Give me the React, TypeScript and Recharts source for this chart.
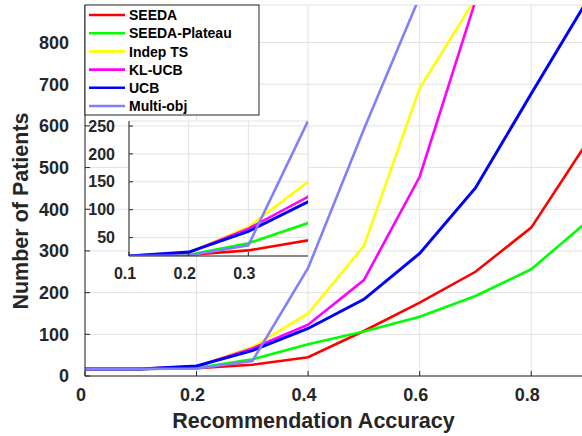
import React from 'react';
import { LineChart, Line, XAxis, YAxis, CartesianGrid } from 'recharts';

const FONT = '"Liberation Sans", Arial, Helvetica, sans-serif';
const INK = '#262626';

// ---- data ----
const accuracy = [0, 0.1, 0.2, 0.3, 0.4, 0.5, 0.6, 0.7, 0.8, 0.9];
const seeda = [17, 17, 19, 27, 45, 108, 176, 250, 356, 560];
const seedaPlateau = [17, 17, 19, 40, 76, 107, 142, 192, 256, 370];
const indepTS = [17, 17, 23, 69, 150, 312, 690, 905, 1400, 2000];
const klUcb = [17, 17, 23, 66, 123, 230, 478, 900, 1350, 1900];
const ucb = [17, 17, 24, 61, 114, 184, 294, 451, 677, 900];
const multiObj = [17, 17, 18, 36, 259, 592, 910, 1300, 1800, 2400];

const seriesNames = ['SEEDA', 'SEEDA-Plateau', 'Indep TS', 'KL-UCB', 'UCB', 'Multi-obj'];
const seriesKeys = ['seeda', 'seedaPlateau', 'indepTS', 'klUcb', 'ucb', 'multiObj'];
const seriesValues = [seeda, seedaPlateau, indepTS, klUcb, ucb, multiObj];

const mainXTicks = [0, 0.2, 0.4, 0.6, 0.8];
const mainYTicks = [0, 100, 200, 300, 400, 500, 600, 700, 800];
const insetXTicks = [0.1, 0.2, 0.3];
const insetYTicks = [50, 100, 150, 200, 250];

// ---- styles ----
const seriesColors = ['#ff0000', '#00ff00', '#ffff00', '#ff00ff', '#0000ff', '#8080ff'];
const seriesWidths = [2.6, 2.6, 2.6, 2.6, 3, 2.6];

const data = accuracy.map((x, i) => {
  const row: Record<string, number> = { x };
  seriesKeys.forEach((k, j) => {
    row[k] = seriesValues[j][i];
  });
  return row;
});

const fmtX = (v: number) => (v === 0 ? '0' : v.toFixed(1));

const makeXTick = (fontSize: number) => (props: any) => {
  const { x, y, payload } = props;
  return (
    <text
      x={x - 4}
      y={y}
      dy="0.71em"
      textAnchor="middle"
      fontSize={fontSize}
      fontWeight="bold"
      fontFamily={FONT}
      fill={INK}
    >
      {fmtX(payload.value)}
    </text>
  );
};

const makeYTick = (fontSize: number) => (props: any) => {
  const { x, y, payload } = props;
  return (
    <text
      x={x}
      y={y}
      dy="0.355em"
      textAnchor="end"
      fontSize={fontSize}
      fontWeight="bold"
      fontFamily={FONT}
      fill={INK}
    >
      {payload.value}
    </text>
  );
};

const noTick = () => <g />;

const lines = (prefix: string) =>
  seriesKeys.map((k, j) => (
    <Line
      key={prefix + k}
      type="linear"
      dataKey={k}
      name={seriesNames[j]}
      stroke={seriesColors[j]}
      strokeWidth={seriesWidths[j]}
      dot={false}
      activeDot={false}
      isAnimationActive={false}
    />
  ));

const Legend = () => {
  const left = 85;
  const top = 5;
  const w = 174;
  const h = 110;
  const row0 = 15;
  const step = 18.2;
  return (
    <g>
      <rect x={left} y={top} width={w} height={h} fill="#fff" stroke={INK} strokeWidth={1} />
      {seriesNames.map((n, j) => {
        const cy = top + row0 - 5 + j * step;
        return (
          <g key={n}>
            <line x1={89} x2={125} y1={cy} y2={cy} stroke={seriesColors[j]} strokeWidth={2.6} />
            <text
              x={129}
              y={cy + 5.1}
              fontSize={14}
              fontWeight="bold"
              fontFamily={FONT}
              fill="#000"
            >
              {n}
            </text>
          </g>
        );
      })}
    </g>
  );
};

export default function App() {
  return (
    <div
      style={{
        position: 'absolute',
        left: 0,
        top: 0,
        width: 582,
        height: 436,
        overflow: 'hidden',
        background: '#fff',
      }}
    >
      {/* main chart */}
      <div style={{ position: 'absolute', left: 0, top: 0 }}>
        <LineChart
          width={600}
          height={436}
          data={data}
          margin={{ top: 5, right: 13, bottom: 0, left: 0 }}
        >
          <CartesianGrid stroke="#e3e3e3" strokeWidth={1} fill="#fff" />
          <XAxis
            dataKey="x"
            type="number"
            domain={[0, 0.9]}
            ticks={mainXTicks}
            allowDataOverflow
            height={60}
            stroke={INK}
            tickSize={-5}
            tickMargin={17}
            tick={makeXTick(18)}
          />
          <XAxis
            xAxisId="top"
            orientation="top"
            dataKey="x"
            type="number"
            domain={[0, 0.9]}
            ticks={mainXTicks}
            allowDataOverflow
            height={0}
            stroke={INK}
            tickSize={-5}
            tick={noTick}
          />
          <YAxis
            type="number"
            domain={[0, 890]}
            ticks={mainYTicks}
            allowDataOverflow
            width={85}
            stroke={INK}
            tickSize={-5}
            tickMargin={21}
            tick={makeYTick(18)}
          />
          {lines('m-')}
        </LineChart>
      </div>

      {/* inset chart */}
      <div style={{ position: 'absolute', left: 80, top: 115 }}>
        <LineChart
          width={233}
          height={171}
          data={data}
          margin={{ top: 6, right: 5, bottom: 0, left: 0 }}
        >
          <CartesianGrid stroke="#e3e3e3" strokeWidth={1} fill="#fff" />
          <XAxis
            dataKey="x"
            type="number"
            domain={[0.1, 0.4]}
            ticks={insetXTicks}
            allowDataOverflow
            height={30}
            stroke={INK}
            tickSize={-4}
            tickMargin={16}
            tick={makeXTick(16)}
          />
          <XAxis
            xAxisId="top"
            orientation="top"
            dataKey="x"
            type="number"
            domain={[0.1, 0.4]}
            ticks={insetXTicks}
            allowDataOverflow
            height={0}
            stroke={INK}
            tickSize={-4}
            tick={noTick}
          />
          <YAxis
            type="number"
            domain={[17, 259]}
            ticks={insetYTicks}
            allowDataOverflow
            width={49}
            stroke={INK}
            tickSize={-4}
            tickMargin={18}
            tick={makeYTick(16)}
          />
          <YAxis
            yAxisId="right"
            orientation="right"
            type="number"
            domain={[17, 259]}
            ticks={insetYTicks}
            allowDataOverflow
            width={0}
            stroke={INK}
            tickSize={-4}
            tick={noTick}
          />
          {lines('i-')}
        </LineChart>
      </div>

      {/* labels and legend */}
      <svg
        width={582}
        height={436}
        style={{ position: 'absolute', left: 0, top: 0, pointerEvents: 'none' }}
      >
        <text
          x={-211}
          y={28}
          transform="rotate(-90)"
          textAnchor="middle"
          fontSize={21.5}
          fontWeight="bold"
          fontFamily={FONT}
          fill={INK}
        >
          Number of Patients
        </text>
        <text
          x={313.5}
          y={428}
          textAnchor="middle"
          fontSize={21.5}
          fontWeight="bold"
          fontFamily={FONT}
          fill={INK}
        >
          Recommendation Accuracy
        </text>
        <Legend />
      </svg>
    </div>
  );
}
